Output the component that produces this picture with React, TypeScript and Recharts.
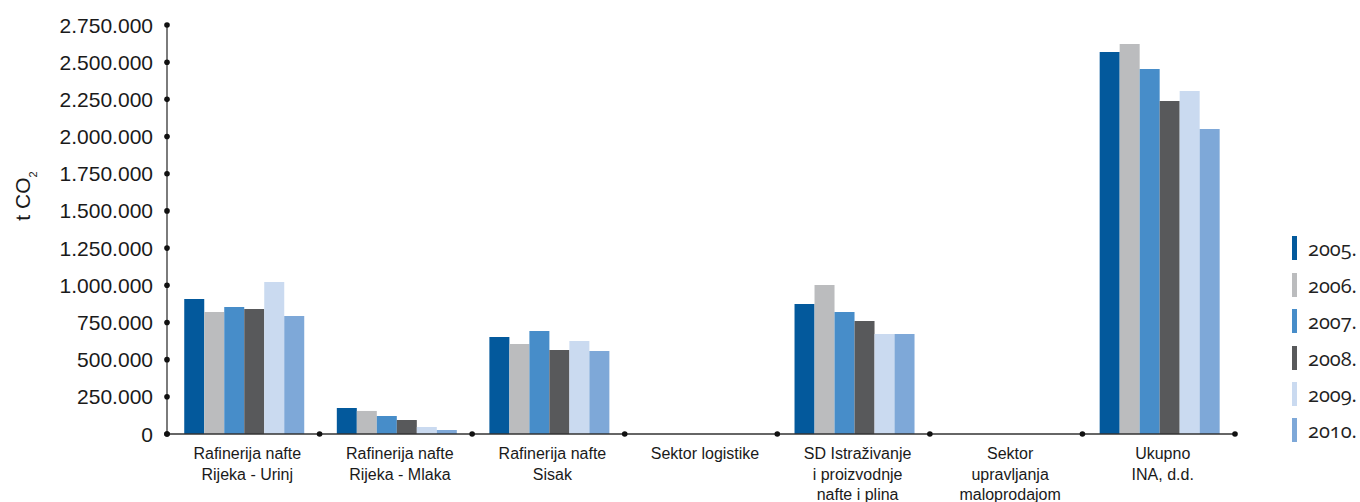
import { BarChart, Bar, XAxis, YAxis, Legend, Label } from 'recharts'

// Kategorije (redovi naziva razdvojeni s \n)
const categories = [
  'Rafinerija nafte\nRijeka - Urinj',
  'Rafinerija nafte\nRijeka - Mlaka',
  'Rafinerija nafte\nSisak',
  'Sektor logistike',
  'SD Istraživanje\ni proizvodnje\nnafte i plina',
  'Sektor\nupravljanja\nmaloprodajom',
  'Ukupno\nINA, d.d.',
]

const years = ['2005.', '2006.', '2007.', '2008.', '2009.', '2010.']

// t CO2 po godinama
const y2005 = [908000, 175000, 652000, null, 874000, null, 2569000]
const y2006 = [820000, 155000, 605000, null, 1002000, null, 2622000]
const y2007 = [854000, 121000, 693000, null, 820000, null, 2454000]
const y2008 = [840000, 94000, 565000, null, 760000, null, 2239000]
const y2009 = [1022000, 47000, 625000, null, 672000, null, 2306000]
const y2010 = [793000, 27000, 558000, null, 672000, null, 2051000]

const yTicks = [0, 250000, 500000, 750000, 1000000, 1250000, 1500000, 1750000, 2000000, 2250000, 2500000, 2750000]

const COLORS = ['#03599c', '#bbbcbe', '#478dc9', '#58595b', '#cadaf0', '#7ea8d8']

const series = [y2005, y2006, y2007, y2008, y2009, y2010]

const data = categories.map((name, i) => {
  const row: Record<string, string | number | null> = { name }
  years.forEach((yr, k) => {
    row[yr] = series[k][i]
  })
  return row
})

const WIDTH = 1360
const HEIGHT = 502
const MARGIN = { top: 25, right: 125, left: 0, bottom: 0 }
const Y_AXIS_W = 167
const PLOT_W = WIDTH - MARGIN.right - Y_AXIS_W
const BAND = PLOT_W / categories.length

const AXIS_FONT = '"Liberation Sans", Arial, sans-serif'

function formatThousands(v: number): string {
  return String(v).replace(/\B(?=(\d{3})+(?!\d))/g, '.')
}

function YTick({ x, y, payload }: { x?: number; y?: number; payload?: { value: number } }) {
  if (x == null || y == null || !payload) return null
  return (
    <g>
      <circle cx={x} cy={y} r={2.8} fill="#111" />
      <text
        x={x - 14}
        y={y}
        dy="0.36em"
        textAnchor="end"
        fontSize={21}
        fontFamily={AXIS_FONT}
        fill="#1a1a1a"
      >
        {formatThousands(payload.value)}
      </text>
    </g>
  )
}

function XTick({ x, y, payload, index }: { x?: number; y?: number; payload?: { value: string }; index?: number }) {
  if (x == null || y == null || !payload) return null
  const lines = String(payload.value).split('\n')
  const last = index === categories.length - 1
  return (
    <g>
      <circle cx={x - BAND / 2} cy={y} r={2.8} fill="#111" />
      {last && <circle cx={x + BAND / 2} cy={y} r={2.8} fill="#111" />}
      <text
        x={x + 4}
        y={y + 25}
        textAnchor="middle"
        fontSize={16}
        fontFamily={AXIS_FONT}
        fill="#1a1a1a"
      >
        {lines.map((line, i) => (
          <tspan key={i} x={x + 4} dy={i === 0 ? 0 : 20.5}>
            {line}
          </tspan>
        ))}
      </text>
    </g>
  )
}

function YLabel() {
  const cx = 30
  const cy = 196
  return (
    <text
      transform={`rotate(-90, ${cx}, ${cy})`}
      x={cx}
      y={cy}
      textAnchor="middle"
      fontSize={21}
      fontFamily={AXIS_FONT}
      fill="#1a1a1a"
    >
      t CO
      <tspan fontSize={11} dy={7}>
        2
      </tspan>
    </text>
  )
}

function YearLegend() {
  return (
    <div>
      {years.map((yr, i) => (
        <div key={yr} style={{ display: 'flex', alignItems: 'flex-end', height: 36.4 }}>
          <div style={{ width: 5, height: 24, backgroundColor: COLORS[i] }} />
          <span
            style={{
              marginLeft: 11,
              fontSize: 20,
              lineHeight: '22px',
              fontFamily: '"Open Sans", sans-serif',
              fontVariantNumeric: 'oldstyle-nums',
              color: '#222',
            }}
          >
            {yr}
          </span>
        </div>
      ))}
    </div>
  )
}

export default function App() {
  return (
    <div style={{ position: 'absolute', left: 0, top: 0, width: WIDTH, height: HEIGHT, background: '#fff' }}>
      <BarChart
        width={WIDTH}
        height={HEIGHT}
        data={data}
        margin={MARGIN}
        barCategoryGap="11.3%"
        barGap={0}
      >
        <XAxis
          dataKey="name"
          interval={0}
          height={68}
          tickLine={false}
          tickSize={0}
          tickMargin={0}
          axisLine={{ stroke: '#333', strokeWidth: 1.6 }}
          tick={<XTick />}
        />
        <YAxis
          width={Y_AXIS_W}
          domain={[0, 2750000]}
          ticks={yTicks}
          interval={0}
          tickLine={false}
          tickSize={0}
          tickMargin={0}
          axisLine={{ stroke: '#444', strokeWidth: 1.4 }}
          tick={<YTick />}
        >
          <Label content={<YLabel />} />
        </YAxis>
        <Legend
          layout="vertical"
          align="center"
          verticalAlign="middle"
          content={<YearLegend />}
          wrapperStyle={{ left: 1292, top: 224, width: 68 }}
        />
        {years.map((yr, i) => (
          <Bar key={yr} dataKey={yr} fill={COLORS[i]} isAnimationActive={false} />
        ))}
      </BarChart>
    </div>
  )
}
